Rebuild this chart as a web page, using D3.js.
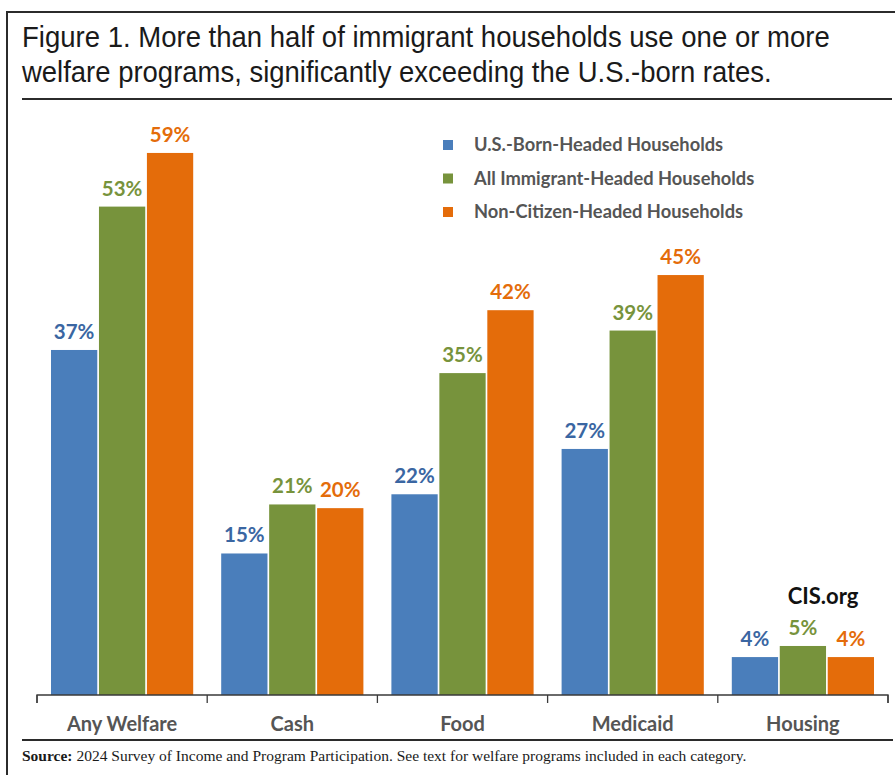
<!DOCTYPE html>
<html><head><meta charset="utf-8">
<script src="https://cdn.jsdelivr.net/npm/d3@7"></script>
<style>body{margin:0;background:#fff}svg{display:block}</style>
</head><body>
<script>
const categories = ["Any Welfare", "Cash", "Food", "Medicaid", "Housing"];
const seriesNames = ["U.S.-Born-Headed Households", "All Immigrant-Headed Households", "Non-Citizen-Headed Households"];
const usBorn = [37.3, 15.3, 21.7, 26.6, 4.1];
const allImmigrant = [52.8, 20.6, 34.8, 39.4, 5.3];
const nonCitizen = [58.6, 20.2, 41.6, 45.4, 4.1];
const seriesValues = [usBorn, allImmigrant, nonCitizen];
const barColors = ["#4A7EBB", "#77933C", "#E46C0A"];
const labelColors = ["#3A66A2", "#77933C", "#E46C0A"];
const titleLines = ["Figure 1. More than half of immigrant households use one or more",
                    "welfare programs, significantly exceeding the U.S.-born rates."];
const sourceBold = "Source:";
const sourceText = " 2024 Survey of Income and Program Participation. See text for welfare programs included in each category.";

const W = 895, H = 775;
const svg = d3.select("body").append("svg").attr("width", W).attr("height", H);

// frame
svg.append("line").attr("x1", 7).attr("x2", 895).attr("y1", 12).attr("y2", 12).attr("stroke", "#2b2b2b").attr("stroke-width", 2);
svg.append("line").attr("x1", 7).attr("x2", 7).attr("y1", 11).attr("y2", 775).attr("stroke", "#2b2b2b").attr("stroke-width", 2);
svg.append("line").attr("x1", 22).attr("x2", 892).attr("y1", 99).attr("y2", 99).attr("stroke", "#2b2b2b").attr("stroke-width", 2);
svg.append("line").attr("x1", 22).attr("x2", 893).attr("y1", 740).attr("y2", 740).attr("stroke", "#2b2b2b").attr("stroke-width", 2);

// title (condensed horizontally to match the narrow face of the original)
const targetW = [808, 750];
titleLines.forEach((t, i) => {
  const g = svg.append("g");
  const txt = g.append("text").attr("x", 0).attr("y", 0)
    .attr("font-family", "'Liberation Sans', Arial, sans-serif").attr("font-size", 30)
    .attr("fill", "#1a1a1a").text(t);
  const w = txt.node().getComputedTextLength();
  g.attr("transform", `translate(22,${47 + i * 35}) scale(${targetW[i] / w},1)`);
});

// scales
const x0 = d3.scaleBand().domain(categories).range([37, 888]).paddingInner(0).paddingOuter(0);
const x1 = d3.scaleBand().domain(d3.range(3)).range([14, x0.bandwidth() - 14]).paddingInner(0.035);
const baseY = 695;
const y = d3.scaleLinear().domain([0, 60]).range([baseY, baseY - 60 * 9.25]);

const font = "Lato, 'Open Sans', sans-serif";

const groups = svg.append("g").selectAll("g").data(categories).join("g")
  .attr("transform", d => `translate(${x0(d)},0)`);

groups.each(function(cat, ci) {
  const g = d3.select(this);
  seriesValues.forEach((vals, si) => {
    const v = vals[ci];
    g.append("rect").attr("x", x1(si)).attr("width", x1.bandwidth())
      .attr("y", y(v)).attr("height", baseY - y(v)).attr("fill", barColors[si]);
    g.append("text").attr("x", x1(si) + x1.bandwidth() / 2).attr("y", y(v) - 11)
      .attr("text-anchor", "middle").attr("font-family", font).attr("font-weight", 700)
      .attr("font-size", 20.5).attr("fill", labelColors[si]).text(Math.round(v) + "%");
  });
});

// axis
const axis = d3.axisBottom(x0).tickSize(8).tickSizeOuter(8).tickFormat("");
const ag = svg.append("g").attr("transform", `translate(0,${baseY})`).call(axis);
ag.select(".domain").attr("stroke", "#3a3a3a").attr("stroke-width", 1.3)
  .attr("d", `M37,8V0H888V8`);
ag.selectAll(".tick").remove();
const tickPos = d3.range(categories.length + 1).map(i => i < categories.length ? x0(categories[i]) : x0.range()[1]);
ag.selectAll("line.bt").data(tickPos).join("line").attr("class", "bt")
  .attr("x1", d => d).attr("x2", d => d).attr("y1", 0).attr("y2", 8)
  .attr("stroke", "#3a3a3a").attr("stroke-width", 1.3);
svg.append("g").selectAll("text").data(categories).join("text")
  .attr("x", d => x0(d) + x0.bandwidth() / 2).attr("y", 731)
  .attr("text-anchor", "middle").attr("font-family", font).attr("font-weight", 700)
  .attr("font-size", 20).attr("fill", "#555").text(d => d);

// legend
const lg = svg.append("g");
seriesNames.forEach((n, i) => {
  const cy = 145 + i * 33.5;
  lg.append("rect").attr("x", 443).attr("y", cy - 5).attr("width", 10).attr("height", 10).attr("fill", barColors[i]);
  lg.append("text").attr("x", 474).attr("y", cy + 6).attr("font-family", font).attr("font-weight", 700)
    .attr("font-size", 18.3).attr("fill", "#555").text(n);
});

// CIS.org
svg.append("text").attr("x", 823).attr("y", 604).attr("text-anchor", "middle")
  .attr("font-family", font).attr("font-weight", 700).attr("font-size", 22).attr("fill", "#111").text("CIS.org");

// source
const st = svg.append("text").attr("x", 22).attr("y", 761)
  .attr("font-family", "'Liberation Serif', 'DejaVu Serif', serif").attr("font-size", 15.5).attr("fill", "#1a1a1a");
st.append("tspan").attr("font-weight", 700).text(sourceBold);
st.append("tspan").text(sourceText);
</script>
</body></html>
